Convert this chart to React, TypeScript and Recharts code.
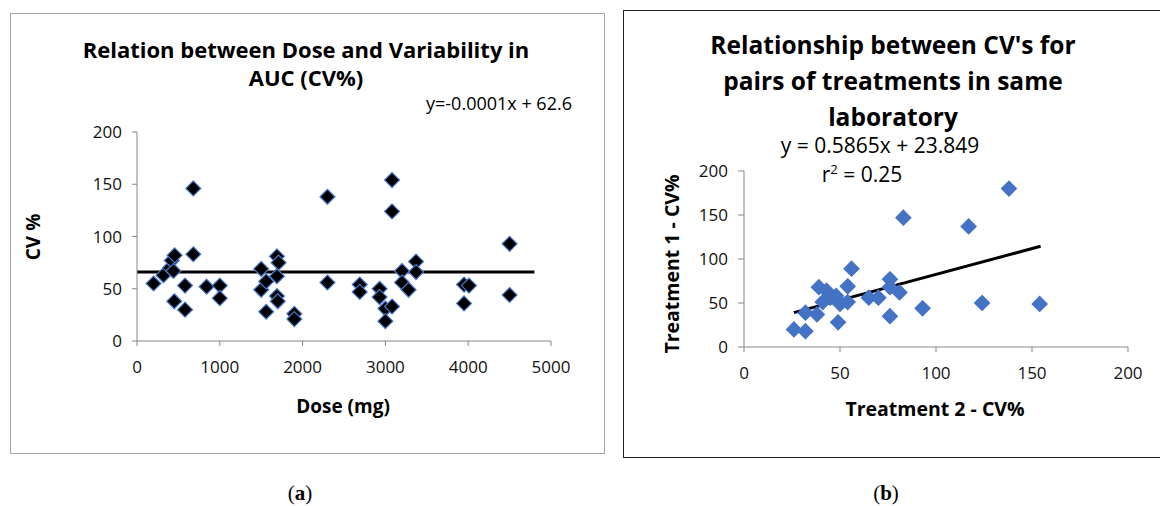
import { ReferenceLine, Scatter, ScatterChart, XAxis, YAxis } from "recharts";

// panel (a): dose vs CV%
const doseValues = [
  200, 320, 400, 420, 455, 440, 450, 580, 580, 680, 680, 840, 1000, 1000, 1500, 1500, 1560, 1560, 1690, 1710,
  1690, 1690, 1700, 1900, 1900, 2300, 2300, 2690, 2690, 2930, 2930, 3000, 3080, 3000, 3080, 3080, 3200, 3200,
  3280, 3370, 3370, 3950, 4010, 3950, 4500, 4500,
];
const cvValues = [
  55, 63, 70, 77, 82, 67, 38, 30, 53, 146, 83, 52, 53, 41, 69, 49, 57, 28, 81, 75, 62, 43, 38, 26, 21, 138, 56,
  54, 47, 50, 42, 31, 33, 19, 154, 124, 67, 56, 49, 76, 66, 54, 53, 36, 93, 44,
];
const doseTicks = [0, 1000, 2000, 3000, 4000, 5000];
const cvTicks = [0, 50, 100, 150, 200];
const doseTrend = [
  { x: 0, y: 66 },
  { x: 4800, y: 66 },
];

// panel (b): treatment 2 vs treatment 1
const treatment2Values = [26, 32, 32, 38, 39, 43, 41, 45, 48, 49, 50, 54, 54, 56, 65, 70, 76, 76, 76, 81, 83, 93, 117, 138, 124, 154];
const treatment1Values = [20, 18, 39, 37, 68, 64, 51, 56, 58, 28, 49, 69, 51, 89, 56, 56, 77, 68, 35, 62, 147, 44, 137, 180, 50, 49];
const treatmentTicks = [0, 50, 100, 150, 200];
const treatmentTrend = [
  { x: 26, y: 39.1 },
  { x: 154.5, y: 114.5 },
];

const leftTitle = ["Relation between Dose and Variability in", "AUC (CV%)"];
const rightTitle = ["Relationship between CV's for", "pairs of treatments in same", "laboratory"];

const doseData = doseValues.map((x, i) => ({ x, y: cvValues[i] }));
const treatmentData = treatment2Values.map((x, i) => ({ x, y: treatment1Values[i] }));

const font = "'Open Sans', Lato, sans-serif";
const tickStyle = { fill: "#111", fontSize: 17, fontFamily: font };
const axisColor = "#868686";

const diamond = (fill: string, stroke: string) => (props: any) => {
  const { cx, cy } = props;
  const r = 7.5;
  return (
    <polygon
      points={`${cx},${cy - r} ${cx + r},${cy} ${cx},${cy + r} ${cx - r},${cy}`}
      fill={fill}
      stroke={stroke}
      strokeWidth={1.2}
    />
  );
};

// text centred on (x, y)
const centered = (x: number, y: number, extra: React.CSSProperties = {}): React.CSSProperties => ({
  position: "absolute",
  left: x,
  top: y,
  transform: "translate(-50%, -50%)",
  fontFamily: font,
  color: "#000",
  whiteSpace: "nowrap",
  lineHeight: 1,
  textAlign: "center",
  ...extra,
});

export default function App() {
  return (
    <div style={{ position: "absolute", left: 0, top: 0, width: 1160, height: 506, background: "#fff", overflow: "hidden" }}>
      {/* panel (a) */}
      <div style={{ position: "absolute", left: 10, top: 13, width: 593, height: 439, border: "1.5px solid #a6a6a6" }} />
      <div style={{ position: "absolute", left: 11, top: 14 }}>
        <ScatterChart width={592} height={438} margin={{ top: 118, right: 52, bottom: 81, left: 66 }}>
          <XAxis
            type="number"
            dataKey="x"
            domain={[0, 5000]}
            ticks={doseTicks}
            height={30}
            stroke={axisColor}
            tickSize={5}
            tickMargin={15}
            tick={tickStyle}
            interval={0}
          />
          <YAxis
            type="number"
            dataKey="y"
            domain={[0, 200]}
            ticks={cvTicks}
            width={60}
            stroke={axisColor}
            tickSize={5}
            tickMargin={10}
            tick={tickStyle}
            interval={0}
          />
          <Scatter data={doseData} shape={diamond("#000", "#4a7bd0")} isAnimationActive={false} />
          <ReferenceLine segment={doseTrend} stroke="#000" strokeWidth={3} />
        </ScatterChart>
      </div>
      {leftTitle.map((line, i) => (
        <div key={line} style={centered(306, 49 + i * 28, { fontWeight: 700, fontSize: 22 })}>
          {line}
        </div>
      ))}
      <div style={centered(499, 103, { fontSize: 18 })}>y=-0.0001x + 62.6</div>
      <div style={centered(343, 406, { fontWeight: 700, fontSize: 19 })}>Dose (mg)</div>
      <div style={centered(33, 237, { fontWeight: 700, fontSize: 19, transform: "translate(-50%, -50%) rotate(-90deg)" })}>
        CV %
      </div>

      {/* panel (b) */}
      <div style={{ position: "absolute", left: 623, top: 10, width: 560, height: 446, border: "1px solid #222" }} />
      <div style={{ position: "absolute", left: 624, top: 11 }}>
        <ScatterChart width={536} height={446} margin={{ top: 160, right: 32, bottom: 80, left: 60 }}>
          <XAxis
            type="number"
            dataKey="x"
            domain={[0, 200]}
            ticks={treatmentTicks}
            height={30}
            stroke={axisColor}
            tickSize={5}
            tickMargin={15}
            tick={tickStyle}
            interval={0}
          />
          <YAxis
            type="number"
            dataKey="y"
            domain={[0, 200]}
            ticks={treatmentTicks}
            width={60}
            stroke={axisColor}
            tickSize={6}
            tickMargin={10}
            tick={tickStyle}
            interval={0}
          />
          <Scatter data={treatmentData} shape={diamond("#4472c4", "#4472c4")} isAnimationActive={false} />
          <ReferenceLine segment={treatmentTrend} stroke="#000" strokeWidth={3} />
        </ScatterChart>
      </div>
      {rightTitle.map((line, i) => (
        <div key={line} style={centered(893, 45 + i * 36, { fontWeight: 700, fontSize: 24.5 })}>
          {line}
        </div>
      ))}
      <div style={centered(880, 145, { fontSize: 21 })}>y = 0.5865x + 23.849</div>
      <div style={centered(862, 174, { fontSize: 21 })}>
        r<sup style={{ fontSize: 13, verticalAlign: "8px" }}>2</sup> = 0.25
      </div>
      <div style={centered(935, 409, { fontWeight: 700, fontSize: 19.5 })}>Treatment 2 - CV%</div>
      <div style={centered(672, 264, { fontWeight: 700, fontSize: 19.5, transform: "translate(-50%, -50%) rotate(-90deg)" })}>
        Treatment 1 - CV%
      </div>

      {/* captions */}
      <div style={centered(300, 493, { fontFamily: "'Liberation Serif', serif", fontSize: 21 })}>
        (<b>a</b>)
      </div>
      <div style={centered(886, 493, { fontFamily: "'Liberation Serif', serif", fontSize: 21 })}>
        (<b>b</b>)
      </div>
    </div>
  );
}
